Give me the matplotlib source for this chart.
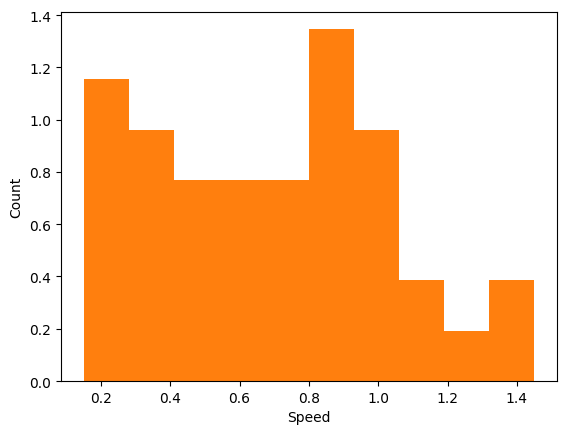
import numpy as np
import matplotlib
matplotlib.use("Agg")
import matplotlib.pyplot as plt


# -----------------------------
# Data: histogram of speeds (density)
# -----------------------------
bin_edges = [0.15, 0.28, 0.41, 0.54, 0.67, 0.80, 0.93, 1.06, 1.19, 1.32, 1.45]
bin_counts = [6, 5, 4, 4, 4, 7, 5, 2, 1, 2]


# -----------------------------
# Chart
# -----------------------------
fig = plt.figure(figsize=(5.67, 4.35), dpi=100)
ax = fig.add_subplot(111)
fig.subplots_adjust(left=0.1076, right=0.982, bottom=0.1218, top=0.971)

ax.hist(bin_edges[:-1], bins=bin_edges, weights=bin_counts, density=True, color="C1")
ax.set_xlabel("Speed")
ax.set_ylabel("Count")

fig.savefig("out.png", dpi=100)
